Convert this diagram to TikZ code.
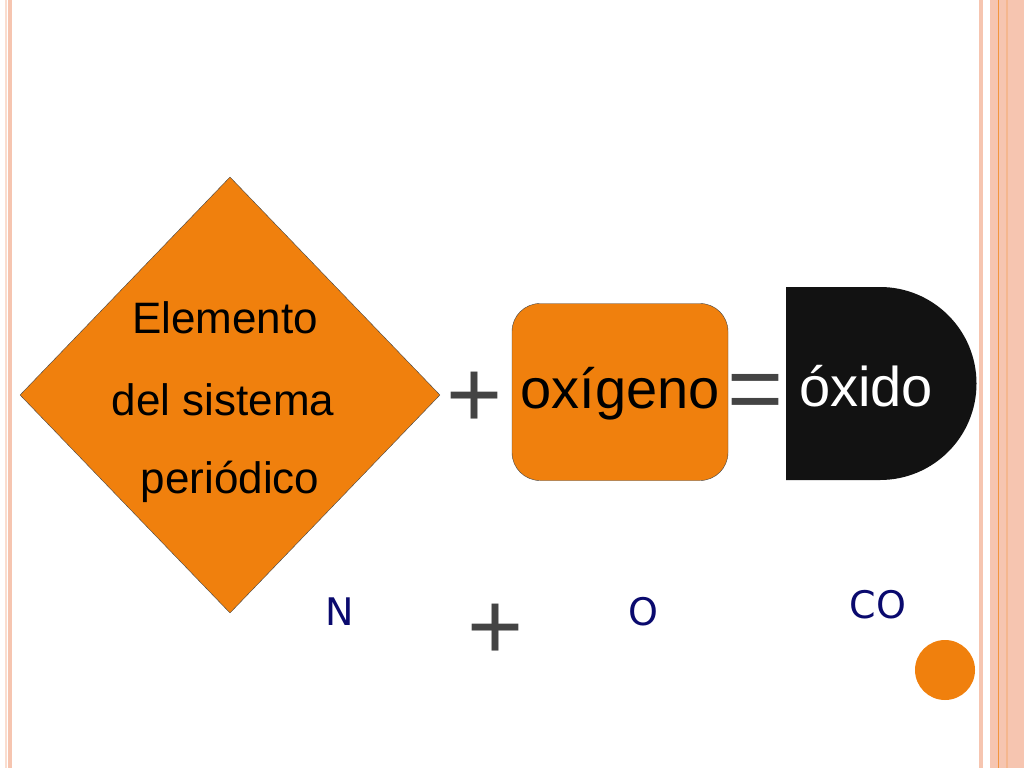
\documentclass[tikz,border=0pt]{standalone}
\usetikzlibrary{shapes.geometric}
\usepackage{fontspec}
\setmainfont{Liberation Sans}
\newfontfamily\handfont{DejaVu Sans}
\definecolor{pk}{HTML}{F6C5B0}
\definecolor{pkl}{HTML}{FADDCF}
\definecolor{orng}{HTML}{F0800D}
\definecolor{navy}{HTML}{0A0A6E}
\definecolor{gr}{HTML}{444444}
\begin{document}
\begin{tikzpicture}[x=1pt,y=-1pt,
  lbl/.style={font=\fontsize{44}{50}\selectfont},
  sym/.style={font=\fontsize{96}{100}\selectfont,text=gr},
  chem/.style={font=\handfont\fontsize{38}{42}\selectfont,text=navy}]
\useasboundingbox[fill=white] (0,0) rectangle (1024,768);
% borders
\fill[pkl] (5,0) rectangle (7,768);
\fill[pk] (8,0) rectangle (12,768);
\fill[pk] (979,0) rectangle (983,768);
\fill[pk] (990,0) rectangle (1024,768);
\fill[orng!70!pk] (997.5,0) rectangle (999,768);
\fill[pk!80!orng] (1006,0) rectangle (1008,768);
% diamond
\node[draw=gr,fill=orng,diamond,minimum width=420,minimum height=436,inner sep=0] (el) at (230,395) {};
\node[lbl] (t1) at (225,318) {Elemento};
\node[lbl] (t2) at (223,400) {del sistema};
\node[lbl] (t3) at (230,482) {periódico};
\node[sym] (p1) at (475,400) {+};
\node[draw=gr,fill=orng,rounded corners=28,minimum width=216,minimum height=177,inner sep=0] (ox) at (620,392) {};
\node[font=\fontsize{56}{60}\selectfont] (oxt) at (620,394) {oxígeno};
\node[sym] (eq) at (756,398) {=};
\fill[black!93] (786,287) -- (880,287) arc[start angle=-90,end angle=90,radius=96.5] -- (786,480) -- cycle;
\node[font=\fontsize{56}{60}\selectfont,text=white] (oxd) at (866,386) {óxido};
\node[chem] (n) at (340,612) {N};
\node[chem] (o) at (643,612) {O};
\node[chem] (co) at (878,605) {CO};
\node[sym] (p2) at (496,632) {+};
\node[circle,fill=orng,minimum size=60,inner sep=0] (c) at (945,670) {};
\end{tikzpicture}
\end{document}
